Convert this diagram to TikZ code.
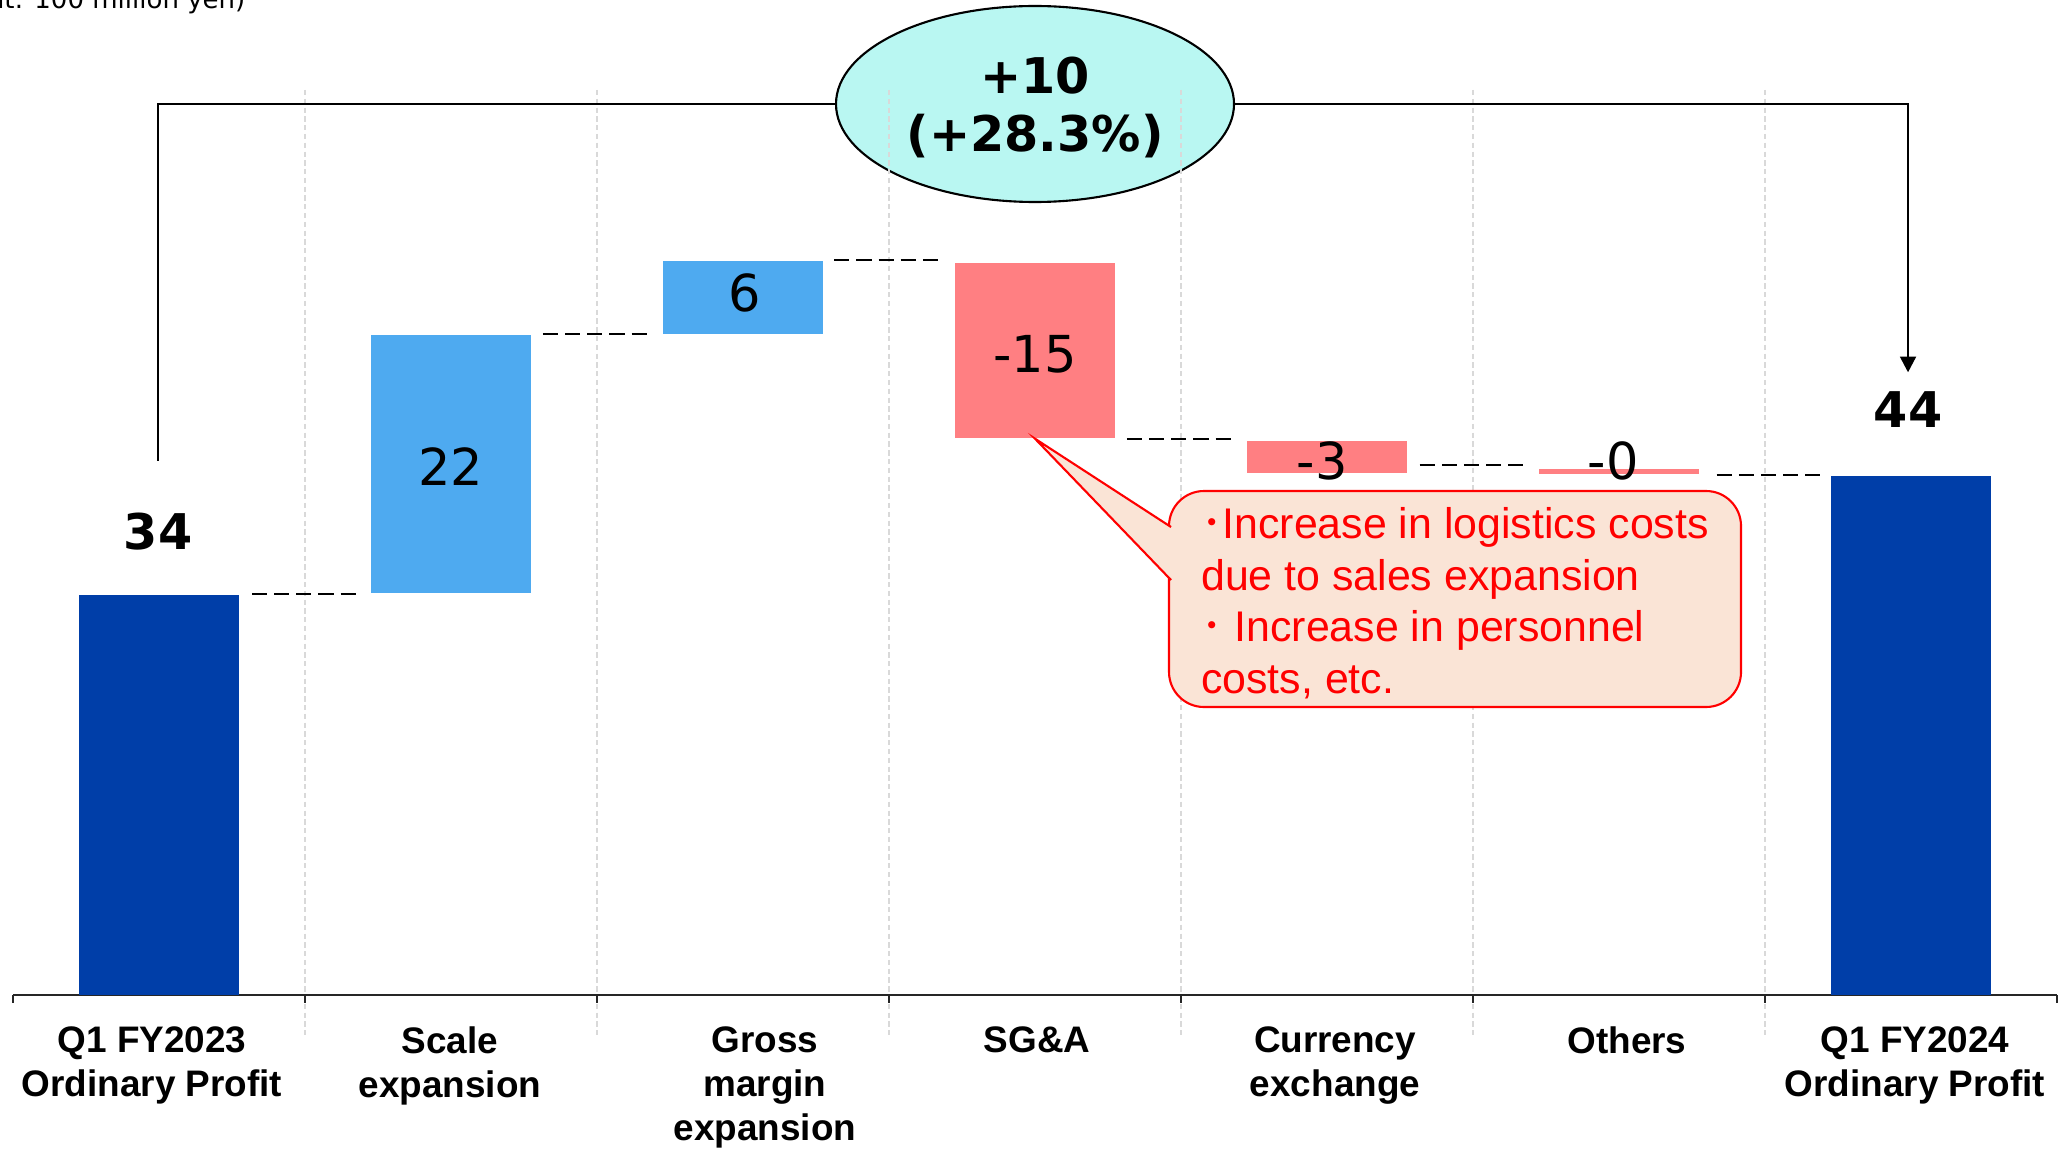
\documentclass[tikz,border=0pt]{standalone}
\usepackage{fontspec}
\setmainfont{Liberation Sans}
\newfontfamily\numfont{DejaVu Sans}
\newfontfamily\jpfont{Noto Sans CJK JP}
\usepackage{xcolor}
\definecolor{CNavy}{HTML}{003EA8}
\definecolor{CSky}{HTML}{4EAAF0}
\definecolor{CRose}{HTML}{FF7F82}
\definecolor{CMint}{HTML}{B9F7F2}
\definecolor{CPeach}{HTML}{FAE4D6}
\definecolor{CRed}{HTML}{FF0000}
\definecolor{CGrid}{HTML}{D9D9D9}
\usepackage{tikz}
\usetikzlibrary{arrows.meta,shapes.geometric}
\tikzstyle{totalBar}=[rectangle, inner sep=0pt, fill=CNavy, minimum width=1.6cm]
\tikzstyle{upBar}=[rectangle, inner sep=0pt, fill=CSky, minimum width=1.6cm]
\tikzstyle{downBar}=[rectangle, inner sep=0pt, fill=CRose, minimum width=1.6cm]
\tikzstyle{valNum}=[inner sep=0pt, font=\numfont\fontsize{14.5}{17}\selectfont]
\tikzstyle{totalNum}=[inner sep=0pt, font=\numfont\bfseries\fontsize{14}{17}\selectfont]
\tikzstyle{catLabel}=[anchor=north, inner sep=0pt, align=center,
  font=\bfseries\fontsize{10.5}{12.5}\selectfont]
\tikzstyle{diffOval}=[ellipse, draw, fill=CMint, line width=0.6pt, inner sep=0pt,
  minimum width=3.98cm, minimum height=1.96cm, align=center,
  font=\numfont\bfseries\fontsize{14}{16.5}\selectfont]
\tikzstyle{noteBox}=[rectangle, rounded corners=0.35cm, draw=CRed, fill=CPeach,
  line width=0.6pt, inner ysep=0pt, minimum width=5.72cm, minimum height=2.16cm,
  align=left, text=CRed, font=\fontsize{12.2}{14.7}\selectfont]
\tikzstyle{lvl}=[line width=0.5pt, dash pattern=on 4.3pt off 2pt]
\tikzstyle{brk}=[line width=0.75pt]
\tikzstyle{gridLine}=[line width=0.4pt, draw=CGrid, dash pattern=on 1.5pt off 1pt]
\tikzstyle{axisLine}=[line width=0.6pt, draw=black!85]

\begin{document}
\begin{tikzpicture}[x=1cm, y=-1cm]
\useasboundingbox (0,0) rectangle (20.68,11.49);
\node[inner sep=0pt, anchor=base east, font=\numfont\fontsize{7.4}{9}\selectfont] (unit) at (2.46,0.09) {(Unit: 100 million yen)};
\node[diffOval] (oval) at (10.35,1.04) {\rule{0pt}{12.5pt}+10\\(+28.3\%)};
% grid and axis
\draw[gridLine] (3.05,0.90) -- (3.05,10.35) (5.97,0.90) -- (5.97,10.35)
  (8.89,0.90) -- (8.89,10.35) (11.81,0.90) -- (11.81,10.35)
  (14.73,0.90) -- (14.73,10.35) (17.65,0.90) -- (17.65,10.35);
\draw[axisLine] (0.13,9.95) -- (20.57,9.95);
\draw[axisLine] (0.13,9.95) -- (0.13,10.03) (3.05,9.95) -- (3.05,10.03)
  (5.97,9.95) -- (5.97,10.03) (8.89,9.95) -- (8.89,10.03)
  (11.81,9.95) -- (11.81,10.03) (14.73,9.95) -- (14.73,10.03)
  (17.65,9.95) -- (17.65,10.03) (20.57,9.95) -- (20.57,10.03);
% bars
\node[totalBar, minimum height=4.00cm] (a) at (1.59,7.95) {};
\node[upBar, minimum height=2.58cm] (b) at (4.51,4.64) {};
\node[upBar, minimum height=0.73cm] (c) at (7.43,2.975) {};
\node[downBar, minimum height=1.75cm] (d) at (10.35,3.505) {};
\node[downBar, minimum height=0.32cm] (e) at (13.27,4.57) {};
\node[downBar, minimum height=0.05cm] (f) at (16.19,4.715) {};
\node[totalBar, minimum height=5.19cm] (g) at (19.11,7.355) {};
\draw[lvl] ([xshift=3.5pt]a.north east) -- ([xshift=-2.3pt]a.north east -| b.west);
\draw[lvl] ([xshift=3.2pt]b.north east) -- ([xshift=-3.6pt]b.north east -| c.west);
\draw[lvl] ([xshift=3pt]c.north east) -- ([xshift=-3.6pt]c.north east -| d.west);
\draw[lvl] ([xshift=3.2pt]d.south east) -- ([xshift=-3.4pt]d.south east -| e.west);
\draw[lvl] ([xshift=3.4pt, yshift=2.5pt]e.south east) -- ([xshift=-3.4pt, yshift=2.5pt]e.south east -| f.west);
\draw[lvl] ([xshift=4.8pt]f.south east) -- ([xshift=-2pt]f.south east -| g.west);
% values
\node[totalNum] (n34) at (1.58,5.32) {34};
\node[valNum] (n22) at (4.51,4.67) {22};
\node[valNum] (n6) at (7.45,2.93) {6};
\node[valNum] (n15) at (10.35,3.54) {-15};
\node[valNum] (n3) at (13.22,4.605) {-3};
\node[valNum] (n0) at (16.13,4.605) {-0};
\node[totalNum] (n44) at (19.08,4.10) {44};
% bracket
\draw[brk] ([yshift=0.52cm]n34.north) |- (oval.west);
\draw[brk, -{Triangle[length=4.5pt, width=4.5pt]}] (oval.east) -| ([yshift=0.19cm]n44.north);
% note
\node[noteBox] (note) at (14.55,5.99) {\rule{0pt}{11.2pt}{\jpfont\smash{･}}Increase in logistics costs\\due to sales expansion\\{\jpfont\smash{･}} Increase in personnel\\costs, etc.};
\coordinate (p1) at (11.71,5.27);
\coordinate (p2) at (11.71,5.80);
\fill[CPeach] (d.south) -- (p1) -- (p2) -- cycle;
\draw[CRed, line width=0.6pt] (p1) -- (d.south) -- (p2);
% categories
\node[catLabel] (ca) at (1.52,10.26) {Q1 FY2023\\Ordinary Profit};
\node[catLabel] (cb) at (4.50,10.26) {Scale\\expansion};
\node[catLabel] (cc) at (7.65,10.26) {Gross\\margin\\expansion};
\node[catLabel] (cd) at (10.37,10.26) {SG\&A};
\node[catLabel] (ce) at (13.35,10.26) {Currency\\exchange};
\node[catLabel] (cf) at (16.27,10.26) {Others};
\node[catLabel] (cg) at (19.15,10.26) {Q1 FY2024\\Ordinary Profit};
\end{tikzpicture}
\end{document}
